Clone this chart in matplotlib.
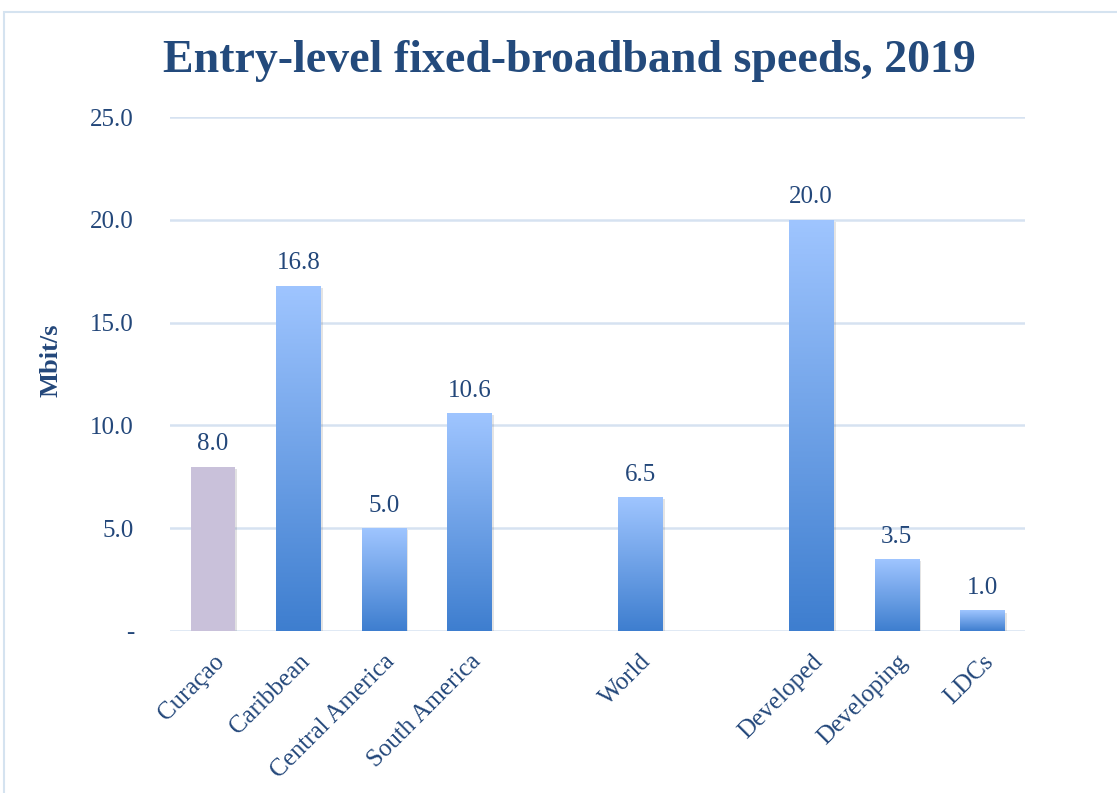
import numpy as np
import matplotlib
matplotlib.use("Agg")
import matplotlib.pyplot as plt
from matplotlib.colors import LinearSegmentedColormap
from matplotlib.patches import Rectangle
import matplotlib.patheffects as pe

categories = ["Curaçao", "Caribbean", "Central America", "South America", "",
              "World", "", "Developed", "Developing", "LDCs"]
values = [8.0, 16.8, 5.0, 10.6, None, 6.5, None, 20.0, 3.5, 1.0]
highlight = ["Curaçao"]
yticks = [0, 5, 10, 15, 20, 25]
ytick_labels = ["-", "5.0", "10.0", "15.0", "20.0", "25.0"]
title = "Entry-level fixed-broadband speeds, 2019"
ylabel = "Mbit/s"

TXT = "#23477a"
FONT = "Liberation Serif"

fig = plt.figure(figsize=(11.17, 7.93), dpi=100)
fig.patches.append(Rectangle((4/1117, -0.1), 1.2, 1 - 12/793 + 0.1, transform=fig.transFigure,
                             fill=False, edgecolor="#d5e3f0", linewidth=1.5))
ax = fig.add_axes([170/1117, 1 - 631/793, 855/1117, (631 - 117)/793])

ax.set_xlim(-0.5, len(categories) - 0.5)
ax.set_ylim(0, 25)
for y in yticks:
    ax.axhline(y, color="#d6e2f1", linewidth=1.8, zorder=0)

cmap = LinearSegmentedColormap.from_list("g", ["#3e7ecf", "#9fc5ff"])
grad = np.linspace(0, 1, 256).reshape(-1, 1)
width = 0.52
shadow_fx = [pe.SimplePatchShadow(offset=(1.5, -1.5), alpha=0.15)]
for i, (c, v) in enumerate(zip(categories, values)):
    if v is None:
        continue
    if c in highlight:
        b = ax.bar(i, v, width=width, color="#c9c1da", zorder=2)[0]
        b.set_path_effects(shadow_fx + [pe.Normal()])
    else:
        b = ax.bar(i, v, width=width, color="none", zorder=2)[0]
        shadow = ax.bar(i, v, width=width, color="white", zorder=1.9)[0]
        shadow.set_path_effects(shadow_fx)
        im = ax.imshow(grad, cmap=cmap, origin="lower", aspect="auto",
                       extent=(i - width/2, i + width/2, 0, v), zorder=2)
        im.set_clip_path(b)
    ax.text(i, v + 0.55, f"{v:.1f}", ha="center", va="bottom", fontsize=18,
            color=TXT, family=FONT)

ax.set_xlim(-0.5, len(categories) - 0.5)
ax.set_ylim(0, 25)
ax.set_xticks(range(len(categories)))
ax.set_xticklabels(categories, rotation=45, ha="right", rotation_mode="anchor",
                   fontsize=18, color=TXT, family=FONT)
ax.set_yticks(yticks)
ax.set_yticklabels(ytick_labels, fontsize=18, color=TXT, family=FONT)
ax.tick_params(axis="both", length=0)
ax.tick_params(axis="y", pad=26)
ax.tick_params(axis="x", pad=14)
for s in ax.spines.values():
    s.set_visible(False)

ax.set_ylabel(ylabel, fontsize=19, fontweight="bold", color=TXT, family=FONT,
              va="center")
ax.yaxis.set_label_coords((51 - 170) / 855, (631 - 360) / 514)
fig.text(569/1117, 1 - 61/793, title, ha="center", va="center", fontsize=33,
         fontweight="bold", color="#234a7c", family=FONT)

fig.savefig("out.png", dpi=100)
